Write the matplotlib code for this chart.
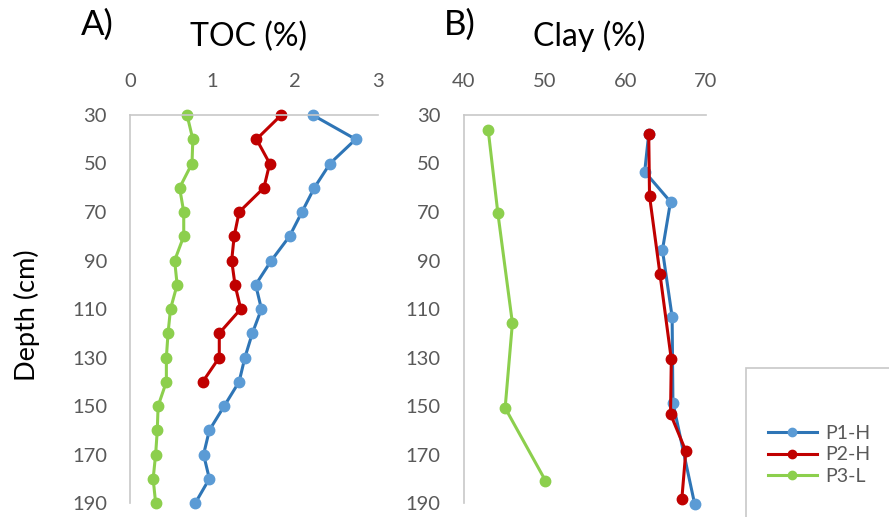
import matplotlib
matplotlib.use("Agg")
import matplotlib.pyplot as plt
from matplotlib.patches import Rectangle

plt.rcParams['font.family'] = ['Lato', 'DejaVu Sans']

# ---- data ----
depth_toc = [30, 40, 50, 60, 70, 80, 90, 100, 110, 120, 130, 140, 150, 160, 170, 180, 190]
toc_p1 = [2.21, 2.73, 2.42, 2.23, 2.08, 1.93, 1.71, 1.52, 1.59, 1.48, 1.39, 1.32, 1.14, 0.96, 0.89, 0.96, 0.79]
toc_p2 = [1.83, 1.53, 1.69, 1.62, 1.32, 1.26, 1.23, 1.27, 1.34, 1.08, 1.08, 0.88]
toc_p3 = [0.69, 0.76, 0.75, 0.60, 0.65, 0.65, 0.54, 0.57, 0.49, 0.46, 0.44, 0.44, 0.34, 0.33, 0.31, 0.28, 0.31]

clay_p1_depth = [37.8, 53.4, 65.8, 85.7, 113.2, 148.6, 190.5]
clay_p1 = [62.9, 62.4, 65.6, 64.6, 65.8, 65.9, 68.6]
clay_p2_depth = [37.8, 63.4, 95.7, 130.8, 153.3, 168.6, 188.5]
clay_p2 = [62.9, 63.0, 64.3, 65.7, 65.6, 67.5, 67.0]
clay_p3_depth = [36.2, 70.5, 115.8, 150.8, 180.8]
clay_p3 = [43.0, 44.2, 46.0, 45.1, 50.1]

series_names = ['P1-H', 'P2-H', 'P3-L']
depth_ticks = [30, 50, 70, 90, 110, 130, 150, 170, 190]
toc_ticks = [0, 1, 2, 3]
clay_ticks = [40, 50, 60, 70]

# ---- styles ----
line_cols = ['#2E75B6', '#C00000', '#8CCF4D']
mark_cols = ['#5B9BD5', '#C00000', '#8CCF4D']
tick_col = '#595959'
spine_col = '#C8C8C8'

W, H = 889, 517
fig = plt.figure(figsize=(W / 100, H / 100), dpi=100)

def px_axes(l, t, r, b):
    return fig.add_axes([l / W, 1 - b / H, (r - l) / W, (b - t) / H])

axA = px_axes(130, 115, 378, 503)
axB = px_axes(464, 115, 706, 503)

def style(ax, xlim, xticks, ypad):
    ax.set_ylim(190, 30)
    ax.set_xlim(*xlim)
    ax.set_xticks(xticks)
    ax.set_yticks(depth_ticks)
    ax.xaxis.tick_top()
    for s in ['right', 'bottom']:
        ax.spines[s].set_visible(False)
    for s in ['top', 'left']:
        ax.spines[s].set_color(spine_col)
        ax.spines[s].set_linewidth(1.2)
    ax.tick_params(axis='both', length=0, labelsize=14.5, labelcolor=tick_col)
    ax.tick_params(axis='y', pad=ypad)
    ax.tick_params(axis='x', pad=18)
    ax.patch.set_alpha(0)

style(axA, (0, 3), toc_ticks, 16.5)
style(axB, (40, 70), clay_ticks, 17)

handles = []
for vals, d, lc, mc, name in [
    (toc_p1, depth_toc, line_cols[0], mark_cols[0], series_names[0]),
    (toc_p2, depth_toc[:len(toc_p2)], line_cols[1], mark_cols[1], series_names[1]),
    (toc_p3, depth_toc, line_cols[2], mark_cols[2], series_names[2]),
]:
    h, = axA.plot(vals, d, color=lc, lw=2.2, marker='o', ms=7.5,
                  mfc=mc, mec=mc, clip_on=False, label=name)
    handles.append(h)

for vals, d, lc, mc in [
    (clay_p3, clay_p3_depth, line_cols[2], mark_cols[2]),
    (clay_p1, clay_p1_depth, line_cols[0], mark_cols[0]),
    (clay_p2, clay_p2_depth, line_cols[1], mark_cols[1]),
]:
    axB.plot(vals, d, color=lc, lw=2.2, marker='o', ms=7.5,
             mfc=mc, mec=mc, clip_on=False)

# titles
fig.text(81 / W, 1 - 35 / H, 'A)', fontsize=25, ha='left', va='baseline', color='black')
fig.text(249 / W, 1 - 46 / H, 'TOC (%)', fontsize=23, ha='center', va='baseline', color='black')
fig.text(444 / W, 1 - 35 / H, 'B)', fontsize=25, ha='left', va='baseline', color='black')
fig.text(589 / W, 1 - 46 / H, 'Clay (%)', fontsize=23, ha='center', va='baseline', color='black')
fig.text(27 / W, 1 - 315 / H, 'Depth (cm)', fontsize=19.5, rotation=90,
         ha='center', va='center', color='black')

# legend box
fig.patches.append(Rectangle((746 / W, 1 - 600 / H), 200 / W, 232 / H,
                             transform=fig.transFigure, fill=False,
                             edgecolor=spine_col, lw=1.2))
leg = fig.legend(handles=handles, loc='center left',
                 bbox_to_anchor=(768 / W, 1 - 455 / H), frameon=False,
                 fontsize=14, handlelength=2.5, handletextpad=0.45,
                 labelspacing=0.22, borderaxespad=0, borderpad=0)
for t in leg.get_texts():
    t.set_color(tick_col)
for lh in leg.legend_handles:
    lh.set_markersize(6)

fig.savefig('out.png', dpi=100)
